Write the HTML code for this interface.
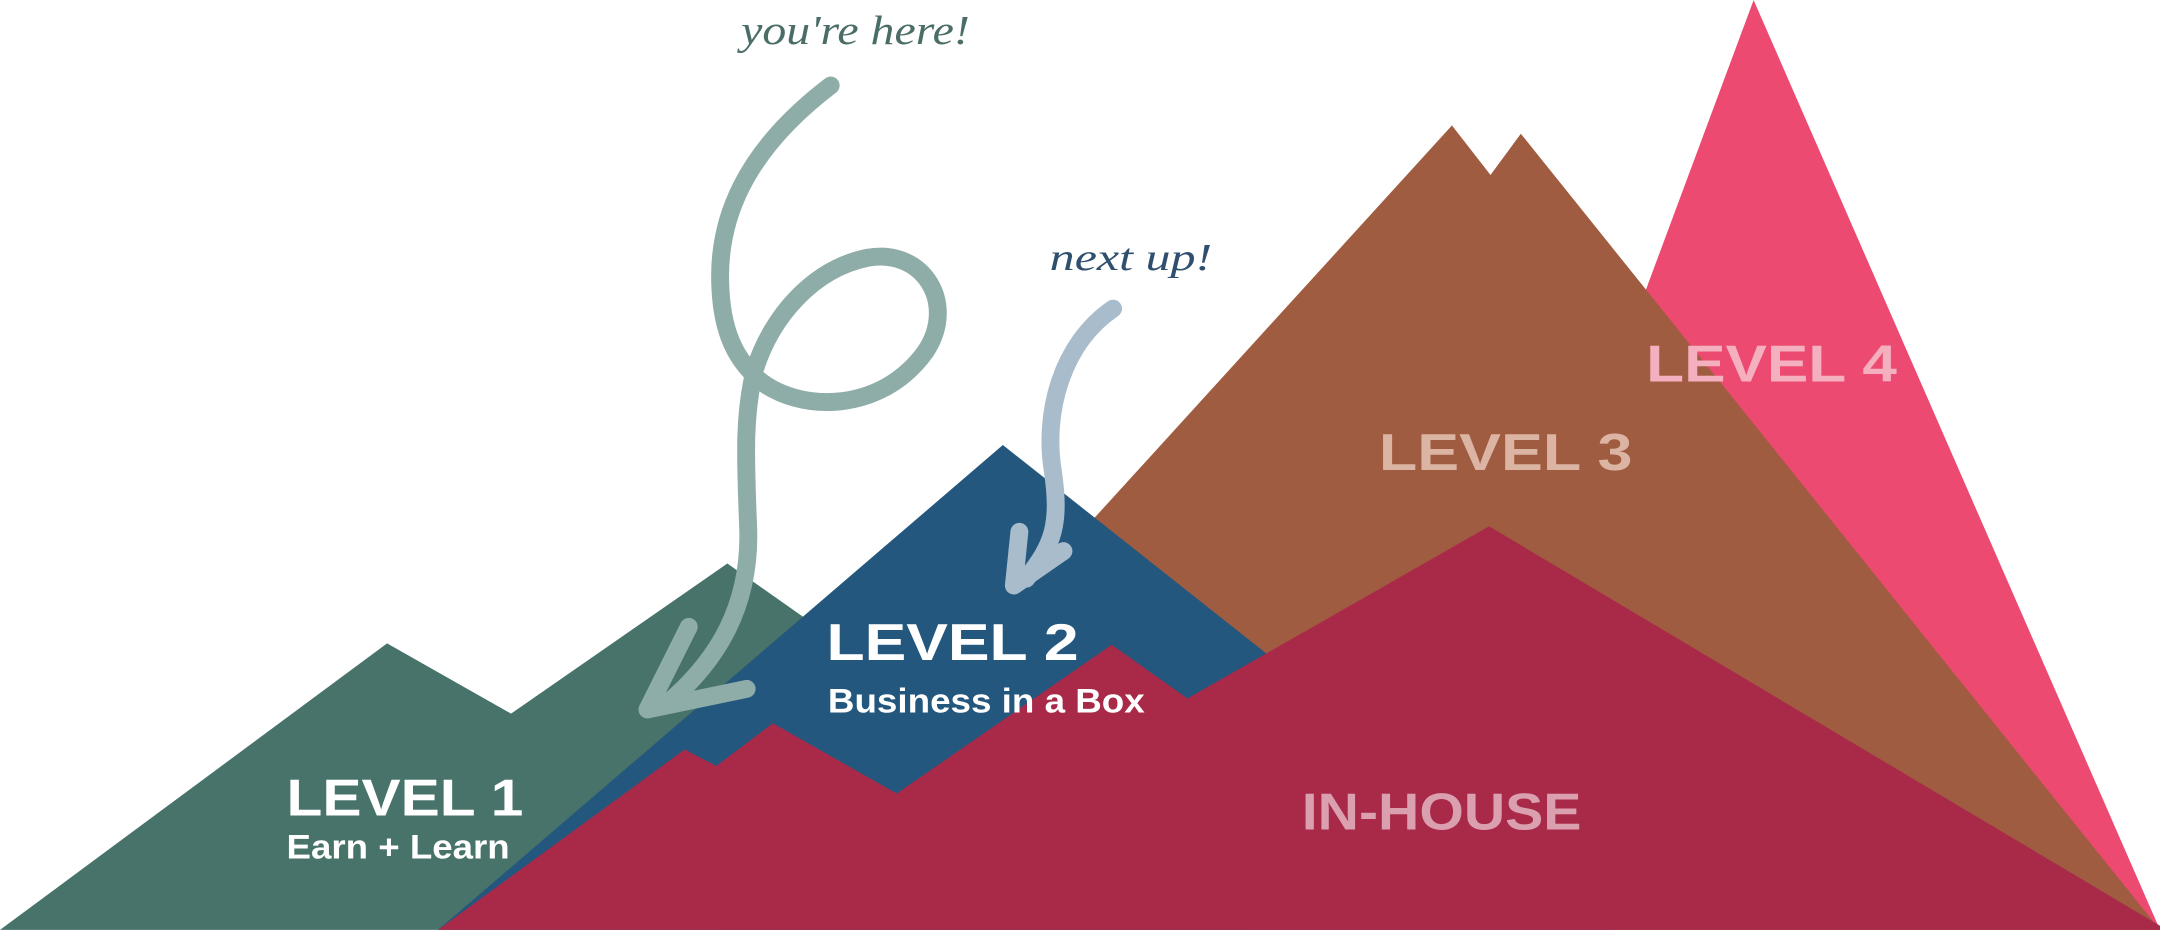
<!DOCTYPE html>
<html><head><style>html,body{margin:0;padding:0;background:#fff}svg{display:block}</style></head>
<body>
<svg width="2160" height="930" viewBox="0 0 1568 675" xmlns="http://www.w3.org/2000/svg">
<polygon points="1273,0 1568,675 1022,675" fill="#ec4a70"/>
<polygon points="522,675 1054,91 1082,127 1104,97 1568,675" fill="#a05c40"/>
<polygon points="0,675 281,467 371,518 528,409 906,675" fill="#48736a"/>
<polygon points="318,675 728,323 1173,675" fill="#24577e"/>
<polygon points="318,675 497,544 520,556 561,525 651,576 807,468 862,507 1081,382 1568,672 1568,675" fill="#a82a48"/>
<g fill="none" stroke="#8fada8" stroke-width="13" stroke-linecap="round" stroke-linejoin="round">
<path d="M603,62 C540,110 520,160 523,210 C525,250 540,265 550,275 C580,300 640,300 672,255 C695,220 670,180 630,187 C590,195 560,230 548,268 C540,300 541,330 543,380 C546,440 520,480 485,510"/>
<path d="M500,455 L470,515 L542,500"/>
</g>
<g fill="none" stroke="#a8bccc" stroke-width="13" stroke-linecap="round" stroke-linejoin="round">
<path d="M808,224 C770,250 758,300 764,340 C770,380 765,395 745,420"/>
<path d="M740,386 L736,425 L772,400"/>
</g>
<g font-family="Liberation Serif, serif" font-style="italic">
<text x="538" y="32" font-size="30" fill="#4a6e67" textLength="166" lengthAdjust="spacingAndGlyphs">you're here!</text>
<text x="762" y="196" font-size="28" fill="#2f4f6e" textLength="118" lengthAdjust="spacingAndGlyphs">next up!</text>
</g>
<g font-family="Liberation Sans, sans-serif" font-weight="bold">
<text x="208" y="592" font-size="38" fill="#fff" textLength="172" lengthAdjust="spacingAndGlyphs">LEVEL 1</text>
<text x="208" y="623" font-size="25" fill="#fff" textLength="162" lengthAdjust="spacingAndGlyphs">Earn + Learn</text>
<text x="600" y="479" font-size="38" fill="#fff" textLength="183" lengthAdjust="spacingAndGlyphs">LEVEL 2</text>
<text x="601" y="517" font-size="25" fill="#fff" textLength="230" lengthAdjust="spacingAndGlyphs">Business in a Box</text>
<text x="1001" y="341" font-size="38" fill="#dcb4a4" textLength="184" lengthAdjust="spacingAndGlyphs">LEVEL 3</text>
<text x="1195" y="277" font-size="38" fill="#f5b0c0" textLength="182" lengthAdjust="spacingAndGlyphs">LEVEL 4</text>
<text x="945" y="602" font-size="38" fill="#dba0b0" textLength="203" lengthAdjust="spacingAndGlyphs">IN-HOUSE</text>
</g>
</svg>
</body></html>
